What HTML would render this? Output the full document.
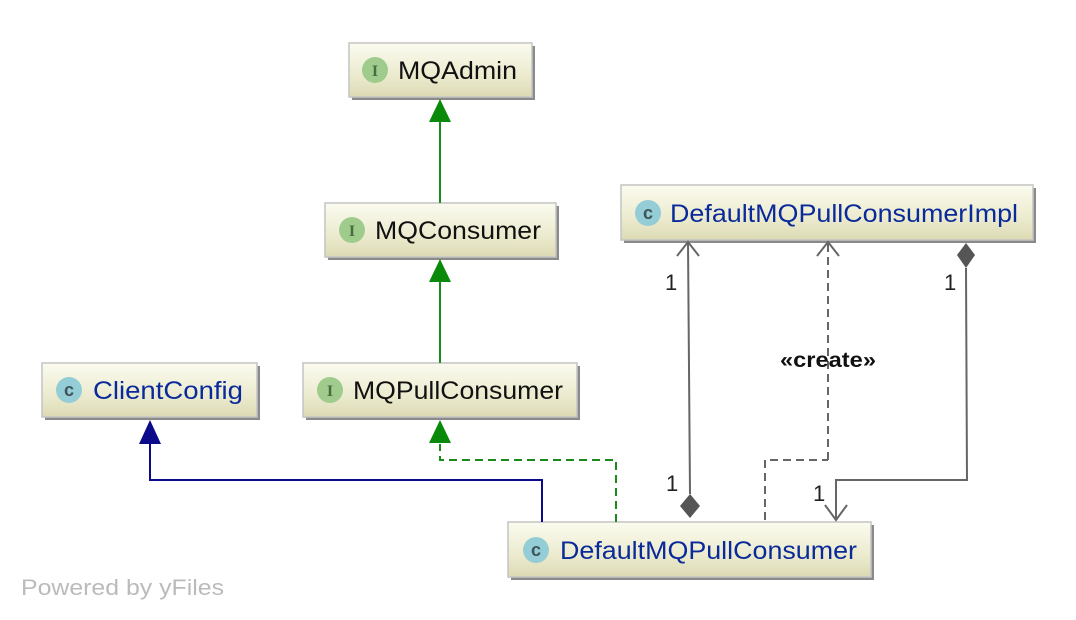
<!DOCTYPE html>
<html><head><meta charset="utf-8"><style>html,body{margin:0;padding:0;background:#fff;width:1076px;height:620px;overflow:hidden}</style></head>
<body>
<svg width="1076" height="620" viewBox="0 0 1076 620" xmlns="http://www.w3.org/2000/svg" font-family="Liberation Sans, DejaVu Sans, sans-serif">
<defs>
<linearGradient id="g" x1="0" y1="0" x2="0" y2="1">
<stop offset="0" stop-color="#fbfbf0"/><stop offset="0.6" stop-color="#ecebcf"/><stop offset="1" stop-color="#dcdab4"/>
</linearGradient>
</defs>
<g stroke="#c4c4c4" stroke-width="1.5">
<rect x="352" y="46" width="183" height="54" fill="#8a8a8a" stroke="none"/>
<rect x="349" y="43" width="183" height="54" fill="url(#g)"/>
<rect x="328" y="206" width="231" height="54" fill="#8a8a8a" stroke="none"/>
<rect x="325" y="203" width="231" height="54" fill="url(#g)"/>
<rect x="306" y="366" width="274" height="54" fill="#8a8a8a" stroke="none"/>
<rect x="303" y="363" width="274" height="54" fill="url(#g)"/>
<rect x="45" y="366" width="215" height="54" fill="#8a8a8a" stroke="none"/>
<rect x="42" y="363" width="215" height="54" fill="url(#g)"/>
<rect x="624" y="188" width="412" height="55" fill="#8a8a8a" stroke="none"/>
<rect x="621" y="185" width="412" height="55" fill="url(#g)"/>
<rect x="511" y="525" width="363" height="55" fill="#8a8a8a" stroke="none"/>
<rect x="508" y="522" width="363" height="55" fill="url(#g)"/>
</g>
<g>
<circle cx="375" cy="70" r="13" fill="#9fcc8c"/><text x="375" y="76" font-size="16" text-anchor="middle" fill="#4a6a40" font-family="Liberation Serif, serif" font-weight="bold">I</text>
<circle cx="352" cy="230" r="13" fill="#9fcc8c"/><text x="352" y="236" font-size="16" text-anchor="middle" fill="#4a6a40" font-family="Liberation Serif, serif" font-weight="bold">I</text>
<circle cx="330" cy="390" r="13" fill="#9fcc8c"/><text x="330" y="396" font-size="16" text-anchor="middle" fill="#4a6a40" font-family="Liberation Serif, serif" font-weight="bold">I</text>
<circle cx="69" cy="390" r="13" fill="#94cdd6"/><text x="69" y="396" font-size="18" text-anchor="middle" fill="#3d5559" font-weight="bold">c</text>
<circle cx="648" cy="213" r="13" fill="#94cdd6"/><text x="648" y="219" font-size="18" text-anchor="middle" fill="#3d5559" font-weight="bold">c</text>
<circle cx="536" cy="550" r="13" fill="#94cdd6"/><text x="536" y="556" font-size="18" text-anchor="middle" fill="#3d5559" font-weight="bold">c</text>
</g>
<g font-size="25">
<text x="398" y="79" fill="#111" textLength="119" lengthAdjust="spacingAndGlyphs">MQAdmin</text>
<text x="375" y="239" fill="#111" textLength="166" lengthAdjust="spacingAndGlyphs">MQConsumer</text>
<text x="353" y="399" fill="#111" textLength="210" lengthAdjust="spacingAndGlyphs">MQPullConsumer</text>
<text x="93" y="399" fill="#0a2a9a" textLength="150" lengthAdjust="spacingAndGlyphs">ClientConfig</text>
<text x="670" y="222" fill="#0a2a9a" textLength="348" lengthAdjust="spacingAndGlyphs">DefaultMQPullConsumerImpl</text>
<text x="560" y="559" fill="#0a2a9a" textLength="297" lengthAdjust="spacingAndGlyphs">DefaultMQPullConsumer</text>
</g>
<g stroke="#1a8a1a" stroke-width="2" fill="none">
<line x1="440" y1="122" x2="440" y2="203"/>
<line x1="440" y1="282" x2="440" y2="363"/>
<path d="M616 522 V460 H440 V444" stroke-dasharray="8,5"/>
</g>
<g fill="#0a8a0a">
<polygon points="440,99 429,122 451,122"/>
<polygon points="440,259 429,282 451,282"/>
<polygon points="440,420 429,443 451,443"/>
</g>
<path d="M542 522 V480 H150 V444" stroke="#0a0a8a" stroke-width="2" fill="none"/>
<polygon points="150,420 139,444 161,444" fill="#0a0a8a"/>
<g stroke="#666" stroke-width="2" fill="none">
<line x1="688" y1="242" x2="690" y2="494"/>
<path d="M677 256 L688 242 L699 256"/>
<path d="M828 460 V242" stroke-dasharray="8,5"/>
<path d="M765 520 V460 H828" stroke-dasharray="8,5"/>
<path d="M817 256 L828 242 L839 256"/>
<path d="M966 268 L967 480 H836 V520"/>
<path d="M825 505 L836 520 L847 505"/>
</g>
<polygon points="690,494 680,506 690,518 700,506" fill="#555"/>
<polygon points="966,243 957,255 966,268 975,255" fill="#555"/>
<g font-size="22" fill="#222">
<text x="665" y="290">1</text>
<text x="944" y="290">1</text>
<text x="666" y="491">1</text>
<text x="813" y="501">1</text>
</g>
<text x="828" y="367" font-size="21" fill="#111" text-anchor="middle" font-weight="bold" textLength="96" lengthAdjust="spacingAndGlyphs">«create»</text>
<text x="21" y="595" font-size="22" fill="#bbb" textLength="203" lengthAdjust="spacingAndGlyphs">Powered by yFiles</text>
</svg>
</body></html>
